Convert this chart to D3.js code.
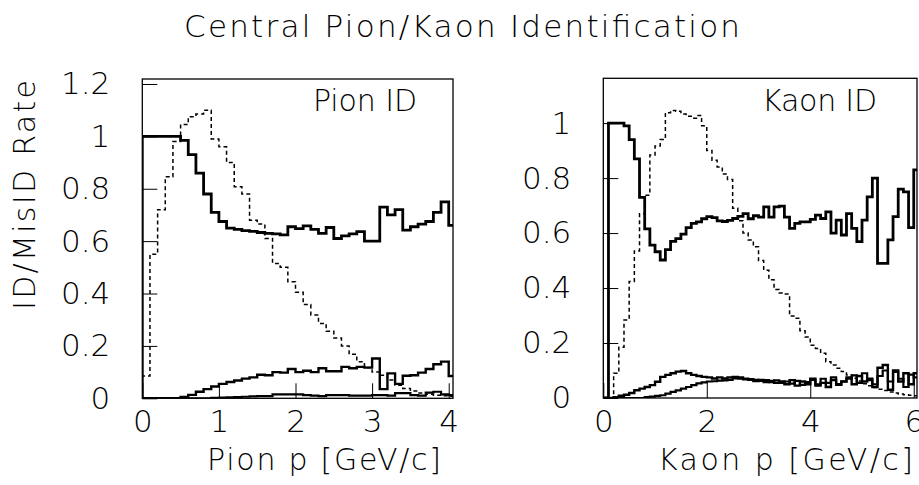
<!DOCTYPE html>
<html><head><meta charset="utf-8">
<script src="https://cdn.jsdelivr.net/npm/d3@7"></script>
<style>
html,body{margin:0;padding:0;background:#fff;}
svg{display:block;}
text{font-family:"DejaVu Sans",sans-serif;font-weight:200;fill:#000;}
</style></head><body>
<svg id="chart" width="919" height="485"></svg>
<script>
// ---------------- data ----------------
const titleText = "Central Pion/Kaon Identification";
const yTitle = "ID/MisID Rate";
const binWidth = 0.1;

// Left panel (pion), bins of 0.1 GeV/c starting at 0
const pionYTicks = [0, 0.2, 0.4, 0.6, 0.8, 1, 1.2];
const pionYLabels = ["0", "0.2", "0.4", "0.6", "0.8", "1", "1.2"];
const pionXTicks = [0, 1, 2, 3, 4];
const pionXLabels = ["0", "1", "2", "3", "4"];
const pionID = [1,1,1,1,1, 0.985,0.93,0.86,0.78,0.71, 0.675,0.65,0.645,0.64,0.637,
  0.633,0.63,0.628,0.624,0.655, 0.648,0.658,0.645,0.63,0.652, 0.61,0.62,0.628,0.636,0.6,
  0.6,0.73,0.7,0.72,0.642, 0.655,0.665,0.675,0.71,0.75, 0.66];
const pionDashed = [0.085,0.55,0.72,0.846,0.98, 1.045,1.075,1.085,1.1,0.99,
  0.96,0.9,0.808,0.78,0.68, 0.665,0.61,0.515,0.5,0.445,
  0.405,0.358,0.318,0.286,0.256, 0.23,0.2,0.168,0.14,0.118,
  0.1,0.088,0.07,0.05,0.037, 0.028,0.02,0.015,0.012,0.01, 0.008];
const pionMisA = [0,0,0,0,0, 0.005,0.013,0.025,0.035,0.045, 0.055,0.062,0.068,0.075,0.08,
  0.09,0.088,0.1,0.098,0.112, 0.1,0.105,0.1,0.115,0.103, 0.103,0.12,0.115,0.12,0.117,
  0.152,0.035,0.095,0.055,0.086, 0.088,0.098,0.112,0.13,0.14, 0.085];
const pionMisB = [0,0,0,0,0, 0,0,0,0,0.002, 0.003,0.004,0.005,0.006,0.007,
  0.008,0.008,0.015,0.015,0.015, 0.015,0.012,0.01,0.008,0.012, 0.012,0.012,0.01,0.01,0.01,
  0.012,0.012,0.01,0.02,0.02, 0.012,0.01,0.022,0.025,0.015, 0.012];

// Right panel (kaon)
const kaonYTicks = [0, 0.2, 0.4, 0.6, 0.8, 1];
const kaonYLabels = ["0", "0.2", "0.4", "0.6", "0.8", "1"];
const kaonXTicks = [0, 2, 4, 6];
const kaonXLabels = ["0", "2", "4", "6"];
const kaonID = [0,1,1,1,0.99, 0.94,0.87,0.73,0.615,0.556,
  0.532,0.502,0.54,0.57,0.58, 0.596,0.62,0.635,0.641,0.652,
  0.66,0.656,0.644,0.642,0.646, 0.653,0.661,0.671,0.652,0.663,
  0.658,0.695,0.658,0.695,0.698, 0.658,0.617,0.635,0.641,0.641,
  0.65,0.665,0.653,0.677,0.6, 0.647,0.593,0.671,0.617,0.569,
  0.647,0.732,0.8,0.49,0.49, 0.575,0.66,0.76,0.75,0.62, 0.83];
const kaonDashed = [0,0,0.09,0.185,0.284, 0.424,0.535,0.67,0.738,0.884,
  0.917,0.94,1.038,1.046,1.043, 1.033,1.025,1.018,1.028,0.99,
  0.9,0.865,0.84,0.815,0.795, 0.69,0.645,0.6,0.575,0.55,
  0.5,0.465,0.43,0.395,0.382, 0.378,0.298,0.29,0.245,0.222,
  0.192,0.18,0.163,0.132,0.12, 0.108,0.096,0.084,0.072,0.062,
  0.052,0.045,0.038,0.032,0.027, 0.022,0.018,0.015,0.012,0.01, 0.008];
const kaonMisA = [0,0,0.003,0.008,0.012, 0.018,0.028,0.034,0.04,0.047,
  0.059,0.077,0.084,0.09,0.096, 0.098,0.09,0.084,0.08,0.077,
  0.075,0.071,0.075,0.071,0.075, 0.077,0.075,0.07,0.068,0.062,
  0.066,0.058,0.062,0.055,0.06, 0.05,0.065,0.045,0.06,0.05,
  0.07,0.045,0.055,0.04,0.065, 0.05,0.06,0.075,0.05,0.08,
  0.06,0.07,0.04,0.11,0.12, 0.03,0.1,0.06,0.09,0.05, 0.09];
const kaonMisB = [0,0,0,0,0, 0,0,0,0.003,0.005,
  0.008,0.01,0.016,0.022,0.028, 0.034,0.04,0.047,0.053,0.057,
  0.06,0.061,0.063,0.064,0.066, 0.071,0.07,0.068,0.066,0.066,
  0.062,0.065,0.058,0.064,0.055, 0.06,0.052,0.062,0.048,0.058,
  0.066,0.05,0.07,0.055,0.075, 0.048,0.06,0.07,0.082,0.055,
  0.09,0.065,0.05,0.08,0.1, 0.06,0.095,0.07,0.04,0.085, 0.075];

// ---------------- drawing ----------------
const svg = d3.select("#chart");
const defs = svg.append("defs");
const FONT = "'DejaVu Sans', sans-serif";

svg.append("text").attr("x", 462).attr("y", 37).attr("text-anchor", "middle")
  .attr("font-size", 31).attr("textLength", 556).attr("lengthAdjust", "spacing").text(titleText);

svg.append("text").attr("transform", "translate(35,195) rotate(-90)").attr("text-anchor", "middle")
  .attr("font-size", 30).attr("textLength", 230).attr("lengthAdjust", "spacing").text(yTitle);

function drawPanel(p) {
  const x = d3.scaleLinear().domain(p.xDomain).range([p.left, p.right]);
  const y = d3.scaleLinear().domain(p.yDomain).range([p.bottom, p.top]);
  const g = svg.append("g");
  defs.append("clipPath").attr("id", p.id).append("rect")
    .attr("x", p.left).attr("y", p.top).attr("width", p.right - p.left).attr("height", p.bottom - p.top);
  const line = d3.line().x(d => x(d[0])).y(d => y(d[1]));
  const plot = g.append("g").attr("clip-path", `url(#${p.id})`);
  p.series.forEach(s => {
    const pts = [[0, 0]];
    s.values.forEach((v, i) => { pts.push([i * binWidth, v]); pts.push([(i + 1) * binWidth, v]); });
    plot.append("path").attr("d", line(pts)).attr("fill", "none").attr("stroke", "#000")
      .attr("stroke-width", s.width).attr("stroke-dasharray", s.dash || null)
      .attr("stroke-linejoin", "miter");
  });
  g.append("rect").attr("x", p.left).attr("y", p.top).attr("width", p.right - p.left)
    .attr("height", p.bottom - p.top).attr("fill", "none").attr("stroke", "#000").attr("stroke-width", 1.3);

  const ya = g.append("g").attr("transform", `translate(${p.left},0)`)
    .call(d3.axisLeft(y).tickValues(p.yTicks).tickSize(-15).tickPadding(32)
      .tickFormat((d, i) => p.yLabels[i]));
  const xa = g.append("g").attr("transform", `translate(0,${p.bottom})`)
    .call(d3.axisBottom(x).tickValues(p.xTicks).tickSize(-15).tickPadding(12)
      .tickFormat((d, i) => p.xLabels[i]));
  [ya, xa].forEach(a => {
    a.select(".domain").remove();
    a.selectAll(".tick line").attr("stroke", "#000").attr("stroke-width", 1);
    a.selectAll(".tick text").attr("font-size", 31).attr("fill", "#000")
      .style("font-family", FONT).style("font-weight", 200);
  });

  g.append("text").attr("x", p.labelX).attr("y", 111).attr("font-size", 30)
    .attr("textLength", p.labelLen).attr("lengthAdjust", "spacing").text(p.label);
  g.append("text").attr("x", p.xTitleEnd).attr("y", 470).attr("text-anchor", "end")
    .attr("font-size", 30).attr("textLength", p.xTitleLen).attr("lengthAdjust", "spacing").text(p.xTitle);
}

drawPanel({
  id: "clipPion", left: 142.3, right: 453, top: 79, bottom: 398.3,
  xDomain: [0, 4.056], yDomain: [0, 1.219],
  yTicks: pionYTicks, yLabels: pionYLabels, xTicks: pionXTicks, xLabels: pionXLabels,
  label: "Pion ID", labelX: 313, labelLen: 104,
  xTitle: "Pion p [GeV/c]", xTitleEnd: 441, xTitleLen: 234,
  series: [
    { values: pionDashed, width: 1.5, dash: "4,3" },
    { values: pionMisB, width: 2.2 },
    { values: pionMisA, width: 2.4 },
    { values: pionID, width: 2.8 }
  ]
});

drawPanel({
  id: "clipKaon", left: 603.3, right: 917, top: 78.3, bottom: 398,
  xDomain: [0, 6.063], yDomain: [0, 1.163],
  yTicks: kaonYTicks, yLabels: kaonYLabels, xTicks: kaonXTicks, xLabels: kaonXLabels,
  label: "Kaon ID", labelX: 762, labelLen: 115,
  xTitle: "Kaon p [GeV/c]", xTitleEnd: 913, xTitleLen: 255,
  series: [
    { values: kaonDashed, width: 1.5, dash: "4,3" },
    { values: kaonMisB, width: 2.2 },
    { values: kaonMisA, width: 2.4 },
    { values: kaonID, width: 2.8 }
  ]
});
</script>
</body></html>
